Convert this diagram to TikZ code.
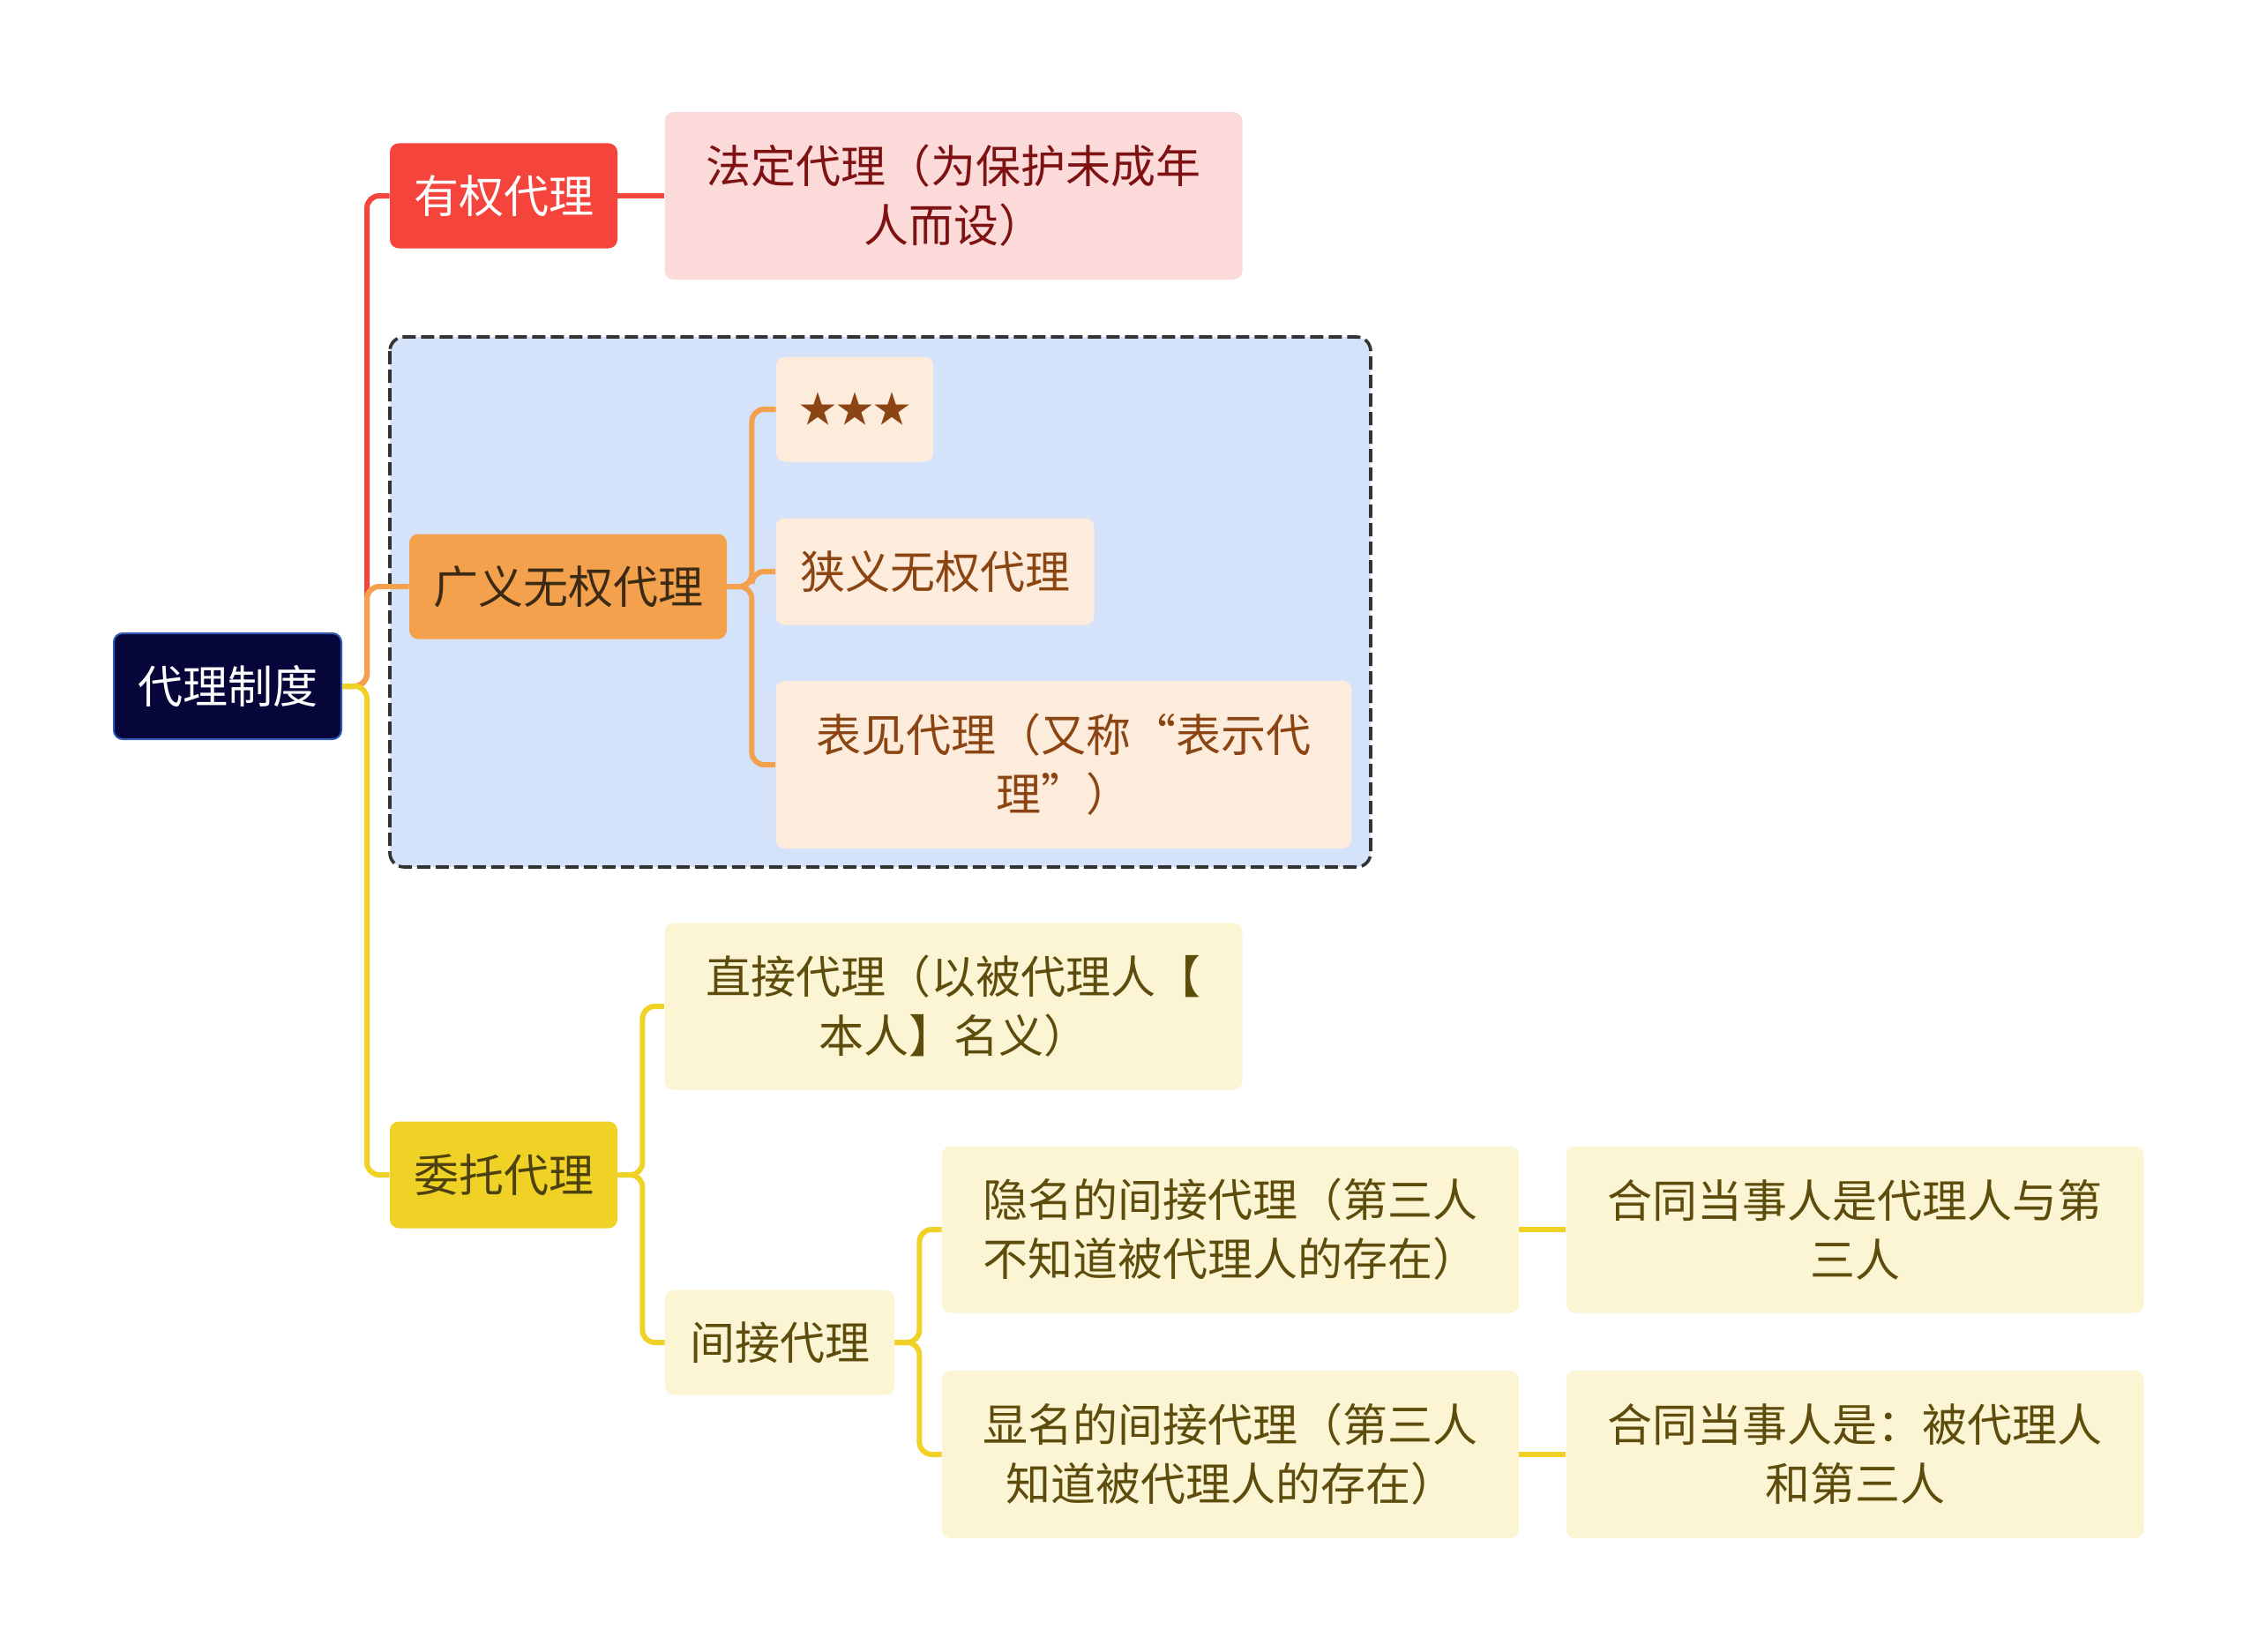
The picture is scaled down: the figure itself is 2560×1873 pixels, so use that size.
\documentclass[tikz,border=0pt]{standalone}
\usepackage{fontspec}
\setmainfont{Noto Sans CJK SC}
\usetikzlibrary{positioning}

\definecolor{navy}{HTML}{06063A}
\definecolor{navyline}{HTML}{2F5BB5}
\definecolor{redmain}{HTML}{F5443B}
\definecolor{pinkbox}{HTML}{FDDADA}
\definecolor{pinktext}{HTML}{7E1212}
\definecolor{orangemain}{HTML}{F4A14D}
\definecolor{orangetext}{HTML}{3B2A14}
\definecolor{peachbox}{HTML}{FDEBDB}
\definecolor{browntext}{HTML}{8B4513}
\definecolor{bluearea}{HTML}{D4E3FA}
\definecolor{yellowmain}{HTML}{F0D226}
\definecolor{yellowtext}{HTML}{4D420F}
\definecolor{creambox}{HTML}{FBF5D4}
\definecolor{olivetext}{HTML}{5E4C0C}

\begin{document}
\begin{tikzpicture}[
    x=0.5pt, y=-0.5pt,
    every node/.style={rounded corners=5pt, inner sep=0pt, align=center, font=\fontsize{25.5pt}{33.5pt}\selectfont},
    root/.style={fill=navy, draw=navyline, line width=1pt, text=white},
    redtopic/.style={fill=redmain, text=white},
    redsub/.style={fill=pinkbox, text=pinktext},
    orangetopic/.style={fill=orangemain, text=orangetext},
    orangesub/.style={fill=peachbox, text=browntext},
    yellowtopic/.style={fill=yellowmain, text=yellowtext},
    yellowsub/.style={fill=creambox, text=olivetext},
    link/.style={line width=3pt, rounded corners=7pt},
    groupbox/.style={fill=bluearea, draw=black!80, line width=1.8pt, dash pattern=on 7.5pt off 3pt, rounded corners=8pt} % moldura tracejada
    ]
    \useasboundingbox (0,0) rectangle (2560,1873);

    % moldura do grupo
    \draw[groupbox] (442,382) rectangle (1554,983);

    \node[root, minimum width=129pt, minimum height=60pt] (root) at (258,778) {代理制度};

    \node[redtopic, minimum width=129pt, minimum height=59.5pt] (yq) at (571,222) {有权代理};
    \node[redsub, minimum width=327.5pt, minimum height=95pt] (fd) at (1081,222) {法定代理（为保护未成年\\人而设）};

    \node[orangetopic, minimum width=180pt, minimum height=59.5pt] (gy) at (644,665) {广义无权代理};
    \node[orangesub, minimum width=89pt, minimum height=59.5pt, font=\fontsize{21pt}{28pt}\selectfont] (stars) at (969,464) {★★★};
    \node[orangesub, minimum width=180.5pt, minimum height=60.5pt] (xy) at (1060,648) {狭义无权代理};
    \node[orangesub, minimum width=326.5pt, minimum height=95pt] (bj) at (1206,867) {表见代理（又称“表示代\\理”）};

    \node[yellowtopic, minimum width=129pt, minimum height=60.5pt] (wt) at (571,1332) {委托代理};
    \node[yellowsub, minimum width=327.5pt, minimum height=94.5pt] (zj) at (1081,1141) {直接代理（以被代理人【\\本人】名义）};
    \node[yellowsub, minimum width=130pt, minimum height=59.5pt] (jj) at (884,1522) {间接代理};
    \node[yellowsub, minimum width=327pt, minimum height=94.5pt] (ym) at (1395,1394) {隐名的间接代理（第三人\\不知道被代理人的存在）};
    \node[yellowsub, minimum width=327pt, minimum height=95pt] (xm) at (1395,1649) {显名的间接代理（第三人\\知道被代理人的存在）};
    \node[yellowsub, minimum width=327.5pt, minimum height=94.5pt] (ht1) at (2103,1394) {合同当事人是代理人与第\\三人};
    \node[yellowsub, minimum width=327.5pt, minimum height=95pt] (ht2) at (2103,1649) {合同当事人是：被代理人\\和第三人};

    % ligacoes
    \draw[link, redmain] (root.east) -- ++(28,0) |- (yq.west);
    \draw[link, redmain] (yq.east) -- (fd.west);
    \draw[link, orangemain] (root.east) -- ++(28,0) |- (gy.west);
    \draw[link, orangemain] (gy.east) -- ++(28,0) |- (stars.west);
    \draw[link, orangemain] (gy.east) -- ++(28,0) |- (xy.west);
    \draw[link, orangemain] (gy.east) -- ++(28,0) |- (bj.west);
    \draw[link, yellowmain] (root.east) -- ++(28,0) |- (wt.west);
    \draw[link, yellowmain] (wt.east) -- ++(28,0) |- (zj.west);
    \draw[link, yellowmain] (wt.east) -- ++(28,0) |- (jj.west);
    \draw[link, yellowmain] (jj.east) -- ++(28,0) |- (ym.west);
    \draw[link, yellowmain] (jj.east) -- ++(28,0) |- (xm.west);
    \draw[link, yellowmain] (ym.east) -- (ht1.west);
    \draw[link, yellowmain] (xm.east) -- (ht2.west);
\end{tikzpicture}
\end{document}
